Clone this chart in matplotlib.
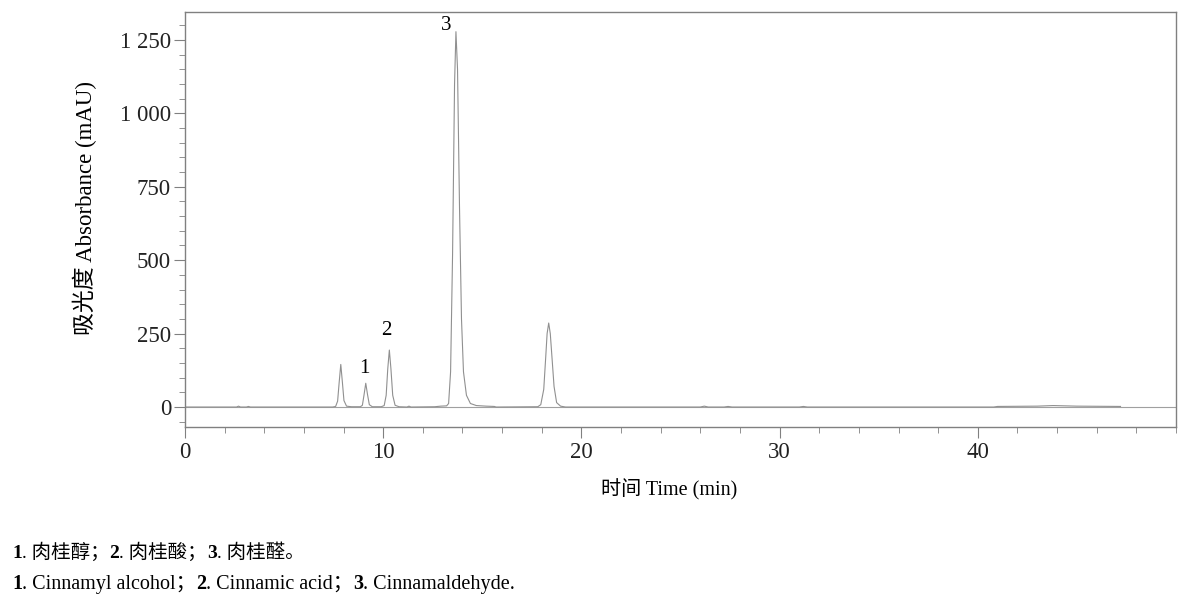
import matplotlib
matplotlib.use("Agg")
import matplotlib.pyplot as plt
from matplotlib.ticker import MultipleLocator, FixedLocator

plt.rcParams['font.family'] = ['Liberation Serif', 'Noto Sans CJK SC']

# Chromatogram trace (time in min, absorbance in mAU)
time_min = [0.0, 2.6, 2.7, 2.8, 3.1, 3.2, 3.3,
            7.45, 7.6, 7.7, 7.78, 7.86, 7.94, 8.02, 8.15, 8.4,
            8.85, 8.95, 9.03, 9.12, 9.21, 9.3, 9.45,
            9.9, 10.05, 10.15, 10.23, 10.31, 10.39, 10.48, 10.6, 10.8,
            11.2, 11.3, 11.4,
            12.6, 12.9, 13.2, 13.3, 13.4, 13.5, 13.6, 13.67, 13.75, 13.85,
            13.95, 14.05, 14.2, 14.4, 14.7, 15.2, 15.6, 15.7,
            17.8, 17.95, 18.1, 18.2, 18.27, 18.35, 18.43, 18.52, 18.62,
            18.75, 18.95, 19.2,
            26.0, 26.2, 26.4, 27.2, 27.4, 27.6, 31.0, 31.2, 31.4,
            40.8, 41.0, 43.0, 43.8, 45.0, 47.2]
absorbance = [0, 0, 3, 0, 0, 2, 0,
              0, 2, 20, 85, 145, 85, 22, 3, 1,
              1, 6, 40, 81, 42, 8, 1,
              1, 5, 40, 130, 194, 130, 40, 6, 1,
              0, 3, 0,
              1, 3, 4, 12, 120, 520, 1100, 1278, 1150, 680,
              300, 120, 40, 12, 5, 3, 2, 0,
              1, 8, 60, 170, 250, 286, 250, 165, 70,
              15, 3, 0,
              0, 3, 0, 0, 2, 0, 0, 2, 0,
              0, 2, 3, 5, 3, 2]

# peak labels
peak_names = ['1', '2', '3']
peak_x = [9.05, 10.15, 13.2]
peak_y = [100, 228, 1265]

yticks = [0, 250, 500, 750, 1000, 1250]
ytick_labels = ['0', '250', '500', '750', '1 000', '1 250']
xticks = [0, 10, 20, 30, 40]

fig = plt.figure(figsize=(11.87, 6.02), dpi=100)
ax = fig.add_axes([185 / 1187, 1 - 427 / 602, 991 / 1187, 415 / 602])

ax.axhline(0, color='#a0a0a0', linewidth=0.8)
ax.plot(time_min, absorbance, color='#909090', linewidth=0.8)

for name, px, py in zip(peak_names, peak_x, peak_y):
    ax.text(px, py, name, ha='center', va='bottom', fontsize=15)

ax.set_xlim(0, 50)
ax.set_ylim(-68, 1345)
ax.xaxis.set_major_locator(FixedLocator(xticks))
ax.xaxis.set_minor_locator(MultipleLocator(2))
ax.set_yticks(yticks)
ax.set_yticklabels(ytick_labels)
ax.yaxis.set_minor_locator(MultipleLocator(50))

for s in ax.spines.values():
    s.set_color('#808080')
    s.set_linewidth(1.0)

ax.tick_params(which='major', length=8, color='#808080', labelsize=16.5,
               labelcolor='#222222')
ax.tick_params(which='minor', length=4, color='#808080')
ax.tick_params(axis='y', pad=2)
ax.tick_params(axis='x', pad=3)

ax.set_ylabel('吸光度 Absorbance (mAU)', fontsize=16.5)
ax.yaxis.set_label_coords(-0.101, 0.528)
ax.set_xlabel('时间 Time (min)', fontsize=14.5)
ax.xaxis.set_label_coords(0.489, -0.152)
ax.xaxis.label.set_va('center')
ax.yaxis.label.set_va('center')

# caption lines with bold numbers
def caption(x, y, parts, size):
    prev = None
    for txt, bold in parts:
        w = 'bold' if bold else 'normal'
        if prev is None:
            prev = fig.text(x, y, txt, fontweight=w, fontsize=size,
                            ha='left', va='bottom')
        else:
            prev = ax.annotate(txt, xy=(1, 0), xycoords=prev, fontweight=w,
                               fontsize=size, ha='left', va='bottom')

caption(12 / 1187, 1 - 562 / 602,
        [('1', True), ('. 肉桂醇；', False), ('2', True), ('. 肉桂酸；', False),
         ('3', True), ('. 肉桂醛。', False)], 14)
caption(12 / 1187, 1 - 594 / 602,
        [('1', True), ('. Cinnamyl alcohol；', False), ('2', True),
         ('. Cinnamic acid；', False), ('3', True), ('. Cinnamaldehyde.', False)],
        14.5)

fig.savefig('out.png', dpi=100)
